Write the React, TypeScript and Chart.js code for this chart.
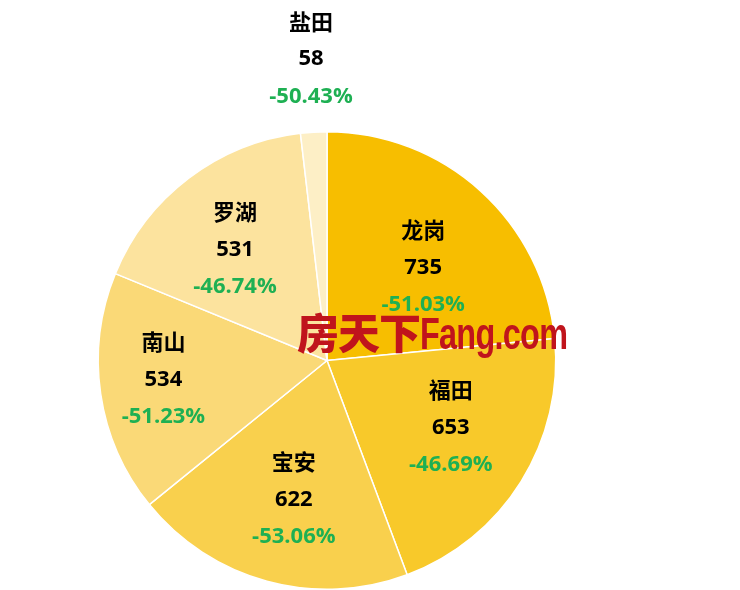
import React, { useEffect, useRef } from "react";
import { Chart, registerables } from "chart.js";

Chart.register(...registerables);

const districts = ["龙岗", "福田", "宝安", "南山", "罗湖", "盐田"];
const values = [735, 653, 622, 534, 531, 58];
const changes = ["-51.03%", "-46.69%", "-53.06%", "-51.23%", "-46.74%", "-50.43%"];
const colors = ["#F7BE00", "#F8C92A", "#F9D04D", "#FAD977", "#FCE39E", "#FDEFC6"];
const labelRadius = [0.585, 0.615, 0.625, 0.72, 0.63, 1.32];
const labelAngleShift = [3.7, -3.6, -1.8, 1.7, -2.5, 0.3];

const labelPlugin = {
  id: "sliceLabels",
  afterDatasetsDraw(chart: any) {
    const ctx = chart.ctx;
    const meta = chart.getDatasetMeta(0);
    meta.data.forEach((arc: any, i: number) => {
      const p = arc.getProps(["x", "y", "startAngle", "endAngle", "outerRadius"], true);
      const mid = (p.startAngle + p.endAngle) / 2 + (labelAngleShift[i] * Math.PI) / 180;
      const r = p.outerRadius * labelRadius[i];
      const cx = p.x + Math.cos(mid) * r;
      const cy = p.y + Math.sin(mid) * r;
      ctx.save();
      ctx.textAlign = "center";
      ctx.textBaseline = "middle";
      ctx.font = "bold 22px 'Noto Sans CJK SC', sans-serif";
      ctx.fillStyle = "#000000";
      ctx.fillText(districts[i], cx, cy - 37.5);
      ctx.font = "bold 22px 'Open Sans', 'Noto Sans', sans-serif";
      ctx.fillText(String(values[i]), cx, cy);
      ctx.fillStyle = "#1EB053";
      ctx.fillText(changes[i], cx, cy + 37.5);
      ctx.restore();
    });
  },
};

export default function App() {
  const ref = useRef<HTMLCanvasElement>(null);
  useEffect(() => {
    if (!ref.current) return;
    const chart = new Chart(ref.current, {
      type: "pie",
      data: {
        labels: districts,
        datasets: [
          {
            data: values,
            backgroundColor: colors,
            borderColor: "#FFFFFF",
            borderWidth: 1.5,
          },
        ],
      },
      options: {
        responsive: false,
        animation: false,
        layout: { padding: { left: 97, right: 183, top: 131, bottom: 0 } },
        plugins: {
          legend: { display: false },
          tooltip: { enabled: false },
        },
      },
      plugins: [labelPlugin],
    });
    return () => chart.destroy();
  }, []);

  return (
    <div style={{ position: "absolute", left: 0, top: 0, width: 740, height: 590, background: "#FFFFFF", overflow: "hidden" }}>
      <canvas ref={ref} width={740} height={590} style={{ width: 740, height: 590 }} />
      <div
        style={{
          position: "absolute",
          left: 297,
          top: 300,
          color: "#C0141C",
          whiteSpace: "nowrap",
          display: "flex",
          alignItems: "baseline",
          pointerEvents: "none",
        }}
      >
        <span style={{ fontFamily: "'Noto Sans CJK SC', sans-serif", fontWeight: 900, fontSize: 42, letterSpacing: -1 }}>房天下</span>
        <span
          style={{
            fontFamily: "'Liberation Sans', Arial, sans-serif",
            fontWeight: 700,
            fontSize: 45,
            display: "inline-block",
            transform: "scaleX(0.72)",
            transformOrigin: "left center",
            letterSpacing: -1,
          }}
        >
          Fang.com
        </span>
      </div>
    </div>
  );
}
